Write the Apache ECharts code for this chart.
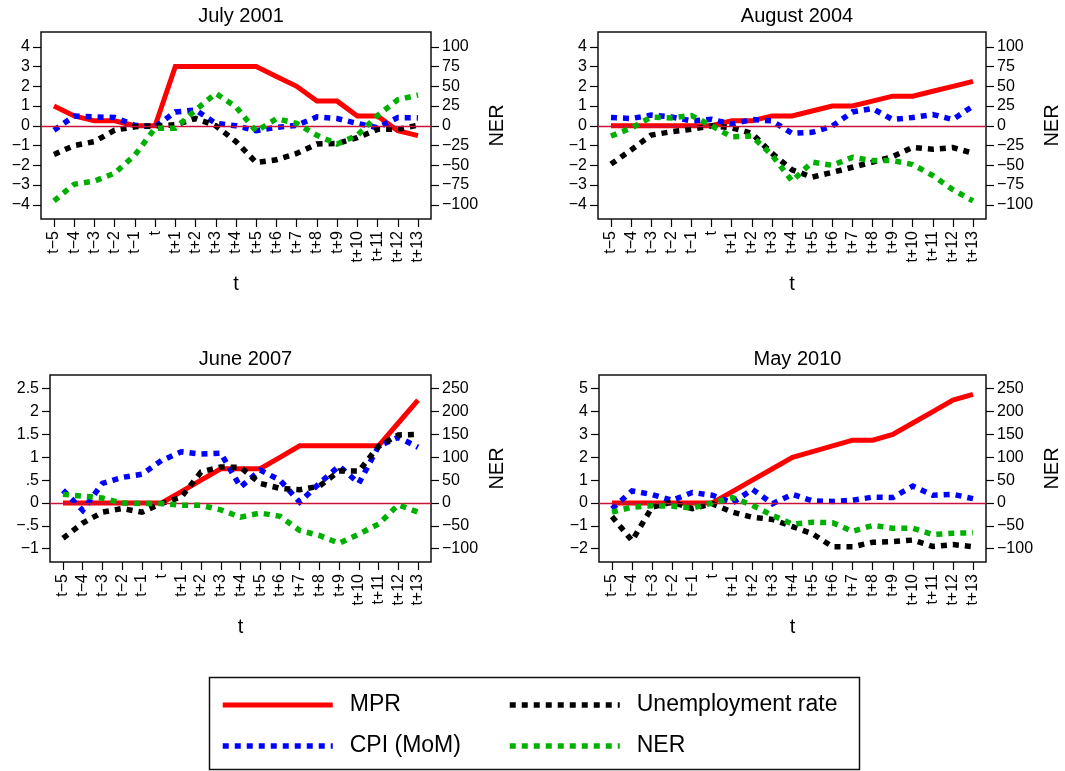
<!DOCTYPE html>
<html>
<head>
<meta charset="utf-8">
<script src="https://cdn.jsdelivr.net/npm/echarts@6/dist/echarts.min.js"></script>
<style>
  html, body { margin: 0; padding: 0; background: #fff; }
  #chart { width: 1065px; height: 771px; }
</style>
</head>
<body>
<div id="chart"></div>
<script>
// Event-window labels: months around the policy-rate decision
const periods = ['t−5','t−4','t−3','t−2','t−1','t','t+1','t+2','t+3','t+4','t+5','t+6','t+7','t+8','t+9','t+10','t+11','t+12','t+13'];

const seriesNames = ['MPR', 'CPI (MoM)', 'Unemployment rate', 'NER'];

// July 2001
const mpr2001   = [1, 0.5, 0.25, 0.25, 0, 0, 3, 3, 3, 3, 3, 2.5, 2, 1.25, 1.25, 0.5, 0.5, -0.25, -0.5];
const cpi2001   = [-0.22, 0.49, 0.45, 0.42, 0.03, -0.05, 0.7, 0.8, 0.12, 0, -0.25, -0.08, 0.02, 0.45, 0.37, 0.12, -0.1, 0.42, 0.4];
const unemp2001 = [-1.45, -1.0, -0.8, -0.22, -0.05, 0, 0.05, 0.37, 0, -0.8, -1.86, -1.72, -1.4, -0.92, -0.9, -0.6, -0.18, -0.18, 0.03];
const ner2001   = [-95, -74, -70, -60, -37, -3, -3, 20, 41, 24, -7, 9, 3, -12, -23, -12, 13, 33, 39];

// August 2004
const mpr2004   = [0, 0, 0, 0, 0, 0, 0.25, 0.25, 0.5, 0.5, 0.75, 1, 1, 1.25, 1.5, 1.5, 1.75, 2, 2.25];
const cpi2004   = [0.42, 0.37, 0.54, 0.45, 0.25, 0.33, 0.08, 0.32, 0.25, -0.38, -0.33, -0.02, 0.7, 0.87, 0.32, 0.42, 0.57, 0.32, 1.0];
const unemp2004 = [-1.94, -1.22, -0.47, -0.3, -0.18, 0, -0.1, -0.38, -1.39, -2.23, -2.6, -2.36, -2.1, -1.84, -1.56, -1.09, -1.19, -1.1, -1.39];
const ner2004   = [-13, -3, 11, 10, 13, 0, -14, -13, -37, -70, -46, -50, -40, -44, -44, -49, -63, -81, -95];

// June 2007
const mpr2007   = [0, 0, 0, 0, 0, 0, 0.25, 0.5, 0.75, 0.75, 0.75, 1, 1.25, 1.25, 1.25, 1.25, 1.25, 1.75, 2.25];
const cpi2007   = [0.28, -0.16, 0.43, 0.56, 0.63, 0.93, 1.12, 1.07, 1.09, 0.35, 0.72, 0.5, 0.02, 0.43, 0.81, 0.43, 1.24, 1.44, 1.22];
const unemp2007 = [-0.77, -0.44, -0.2, -0.12, -0.2, -0.01, 0.13, 0.68, 0.79, 0.78, 0.43, 0.32, 0.29, 0.37, 0.7, 0.7, 1.24, 1.49, 1.5];
const ner2007   = [19, 15, 11, 0, -1, -1, -5, -5, -15, -31, -22, -29, -60, -71, -88, -68, -46, -4, -20];

// May 2010
const mpr2010   = [0, 0, 0, 0, 0, 0, 0.5, 1, 1.5, 2, 2.25, 2.5, 2.75, 2.75, 3, 3.5, 4, 4.5, 4.75];
const cpi2010   = [-0.25, 0.53, 0.37, 0.12, 0.46, 0.34, 0, 0.6, -0.03, 0.38, 0.09, 0.07, 0.12, 0.26, 0.24, 0.74, 0.34, 0.38, 0.19];
const unemp2010 = [-0.59, -1.65, -0.18, 0.04, -0.25, -0.03, -0.4, -0.62, -0.72, -1.03, -1.35, -1.91, -1.91, -1.72, -1.69, -1.62, -1.9, -1.82, -1.91];
const ner2010   = [-20, -9, -6, -7, -11, 0, 12, -5, -27, -46, -42, -43, -62, -49, -55, -55, -69, -66, -65];

// Tick values for the left (rates) and right (NER) axes
const leftTicksA  = [-4, -3, -2, -1, 0, 1, 2, 3, 4];
const rightTicksA = [-100, -75, -50, -25, 0, 25, 50, 75, 100];
const leftTicks2007  = [-1, -0.5, 0, 0.5, 1, 1.5, 2, 2.5];
const rightTicks2007 = [-100, -50, 0, 50, 100, 150, 200, 250];
const leftTicks2010  = [-2, -1, 0, 1, 2, 3, 4, 5];
const rightTicks2010 = [-100, -50, 0, 50, 100, 150, 200, 250];

const panels = [
  { title: 'July 2001',   box: [41, 32, 431, 219],  yRange: [-4.72, 4.75], nerScale: 25,
    leftTicks: leftTicksA, rightTicks: rightTicksA, data: [mpr2001, cpi2001, unemp2001, ner2001] },
  { title: 'August 2004', box: [598, 32, 986, 219], yRange: [-4.72, 4.75], nerScale: 25,
    leftTicks: leftTicksA, rightTicks: rightTicksA, data: [mpr2004, cpi2004, unemp2004, ner2004] },
  { title: 'June 2007',   box: [50, 375, 431, 562], yRange: [-1.29, 2.8], nerScale: 100,
    leftTicks: leftTicks2007, rightTicks: rightTicks2007, data: [mpr2007, cpi2007, unemp2007, ner2007] },
  { title: 'May 2010',    box: [599, 375, 986, 562], yRange: [-2.58, 5.6], nerScale: 50,
    leftTicks: leftTicks2010, rightTicks: rightTicks2010, data: [mpr2010, cpi2010, unemp2010, ner2010] }
];

const FONT = 'Liberation Sans, Arial, Helvetica, sans-serif';
const INK = '#000';
const COLORS = ['#ff0000', '#0000ff', '#000000', '#00b000'];
const DOTS = [6, 6];

function fmtNum(v) {
  let s = String(v);
  s = s.replace(/^(-?)0\./, '$1.');
  return s.replace('-', '−');
}

function legendItem(name) {
  const s = seriesNames.indexOf(name);
  return {
    name: name,
    itemStyle: { opacity: 0 },
    lineStyle: { color: COLORS[s], width: s === 0 ? 5 : 5.5, type: s === 0 ? 'solid' : DOTS, cap: 'butt' }
  };
}

const xIdx = periods.map((_, i) => i);

const legendText = { fontFamily: FONT, fontSize: 23, color: INK, padding: [0, 0, 0, 12], lineHeight: 24 };

const option = {
  animation: false,
  backgroundColor: '#fff',
  title: [],
  grid: [],
  xAxis: [],
  yAxis: [],
  series: [],
  legend: [
    {
      left: 215, top: 688, orient: 'vertical', itemGap: 17,
      itemWidth: 110, itemHeight: 14, selectedMode: false,
      data: ['MPR', 'CPI (MoM)'].map(legendItem),
      textStyle: legendText
    },
    {
      left: 502, top: 688, orient: 'vertical', itemGap: 17,
      itemWidth: 110, itemHeight: 14, selectedMode: false,
      data: ['Unemployment rate', 'NER'].map(legendItem),
      textStyle: legendText
    }
  ],
  graphic: [
    {
      type: 'rect', silent: true,
      shape: { x: 209.5, y: 677.5, width: 650, height: 92 },
      style: { fill: 'none', stroke: '#111', lineWidth: 1.5 }
    }
  ]
};

panels.forEach((p, k) => {
  const [x0, y0, x1, y1] = p.box;
  const w = x1 - x0, h = y1 - y0;
  const pad = 13 / ((w - 26) / 18);

  option.title.push({
    text: p.title, left: (x0 + x1) / 2, top: y0 - 31, textAlign: 'center',
    textStyle: { fontFamily: FONT, fontSize: 20, fontWeight: 'normal', color: INK }
  });

  option.grid.push({
    left: x0, top: y0, width: w, height: h, show: true,
    borderColor: '#111', borderWidth: 1.5, backgroundColor: 'transparent'
  });

  option.xAxis.push({
    type: 'value', gridIndex: k, min: -pad, max: 18 + pad, position: 'bottom',
    axisLine: { show: false, onZero: false },
    splitLine: { show: false },
    axisTick: { show: true, customValues: xIdx, length: 8, lineStyle: { color: INK, width: 1.2 } },
    axisLabel: {
      show: true, customValues: xIdx, rotate: 90, margin: 12,
      formatter: v => periods[Math.round(v)],
      fontFamily: FONT, fontSize: 16, color: INK
    },
    name: 't', nameLocation: 'middle', nameGap: 55,
    nameTextStyle: { fontFamily: FONT, fontSize: 20, color: INK }
  });

  const [lo, hi] = p.yRange;
  option.yAxis.push({
    type: 'value', gridIndex: k, position: 'left', min: lo, max: hi,
    axisLine: { show: false, onZero: false },
    splitLine: { show: false },
    axisTick: { show: true, customValues: p.leftTicks, length: 8, lineStyle: { color: INK, width: 1.2 } },
    axisLabel: {
      show: true, customValues: p.leftTicks, margin: 11,
      formatter: v => fmtNum(v), fontFamily: FONT, fontSize: 16, color: INK
    }
  });
  option.yAxis.push({
    type: 'value', gridIndex: k, position: 'right',
    min: lo * p.nerScale, max: hi * p.nerScale,
    axisLine: { show: false, onZero: false },
    splitLine: { show: false },
    axisTick: { show: true, customValues: p.rightTicks, length: 8, lineStyle: { color: INK, width: 1.2 } },
    axisLabel: {
      show: true, customValues: p.rightTicks, margin: 11,
      formatter: v => fmtNum(v), fontFamily: FONT, fontSize: 16, color: INK
    },
    name: 'NER', nameLocation: 'middle', nameRotate: 90, nameGap: 56,
    nameTextStyle: { fontFamily: FONT, fontSize: 20, color: INK }
  });

  // zero reference line, drawn beneath the series
  option.series.push({
    type: 'line', xAxisIndex: k, yAxisIndex: 2 * k, data: [], silent: true, z: 1,
    markLine: {
      silent: true, symbol: ['none', 'none'], label: { show: false },
      lineStyle: { color: '#c8143c', width: 1.4, type: 'solid' },
      data: [{ yAxis: 0 }]
    }
  });

  p.data.forEach((vals, s) => {
    option.series.push({
      name: seriesNames[s],
      type: 'line',
      xAxisIndex: k,
      yAxisIndex: s === 3 ? 2 * k + 1 : 2 * k,
      data: vals.map((v, i) => [i, v]),
      showSymbol: false, symbol: 'none', z: 2 + s,
      color: COLORS[s],
      lineStyle: {
        color: COLORS[s],
        width: s === 0 ? 5 : 5.5,
        type: s === 0 ? 'solid' : DOTS,
        cap: 'butt', join: 'miter'
      }
    });
  });
});

const chart = echarts.init(document.getElementById('chart'), null, { renderer: 'canvas' });
chart.setOption(option);
</script>
</body>
</html>
